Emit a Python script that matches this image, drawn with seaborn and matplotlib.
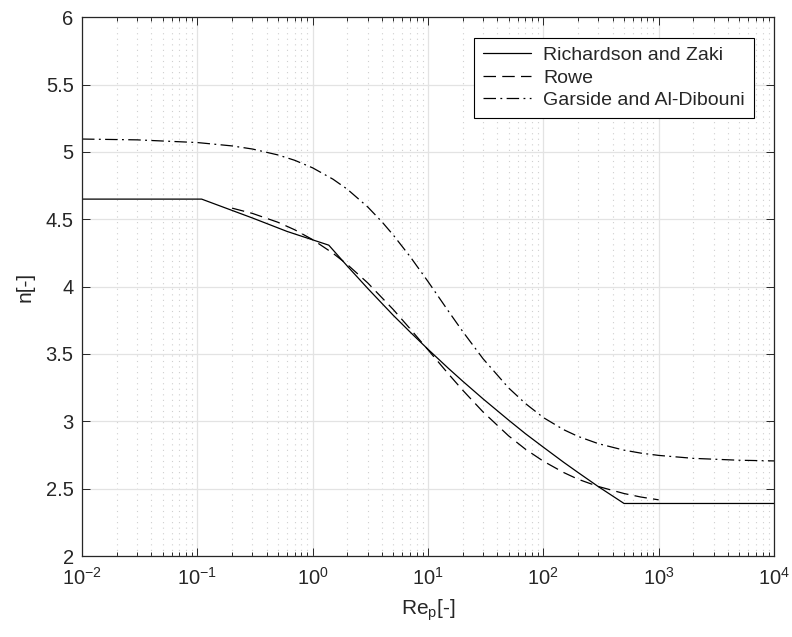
import numpy as np
import pandas as pd
import matplotlib
matplotlib.use("Agg")
import matplotlib.pyplot as plt
import seaborn as sns

# Richardson and Zaki (piecewise)
rz_re = [0.01, 0.109, 0.3, 0.6, 1.38, 2, 3, 5, 7, 10, 15, 20, 30, 50, 70, 100, 150, 200, 300, 501, 10000]
rz_n = [4.65, 4.65, 4.51, 4.41, 4.308, 4.152, 3.987, 3.787, 3.663, 3.535, 3.394, 3.298, 3.167, 3.009,
        2.908, 2.808, 2.696, 2.620, 2.515, 2.39, 2.39]

# Rowe
rowe_re = [0.2, 0.3, 0.5, 0.7, 1, 1.5, 2, 3, 5, 7, 10, 15, 20, 30, 50, 70, 100, 150, 200, 300, 500, 700, 1000]
rowe_n = [4.583, 4.544, 4.478, 4.422, 4.349, 4.248, 4.164, 4.028, 3.830, 3.687, 3.531, 3.353, 3.231,
          3.070, 2.892, 2.793, 2.704, 2.620, 2.570, 2.516, 2.464, 2.438, 2.417]

# Garside and Al-Dibouni
ga_re = [0.01, 0.03, 0.1, 0.2, 0.3, 0.5, 0.7, 1, 1.5, 2, 3, 4, 5, 7, 10, 15, 20, 30, 50, 70, 100,
         150, 200, 300, 500, 700, 1000, 2000, 5000, 10000]
ga_n = [5.096, 5.090, 5.070, 5.045, 5.022, 4.978, 4.938, 4.882, 4.798, 4.723, 4.592, 4.480, 4.383,
        4.223, 4.038, 3.819, 3.667, 3.465, 3.248, 3.132, 3.028, 2.938, 2.888, 2.834, 2.786, 2.764,
        2.747, 2.725, 2.711, 2.706]

labels = ["Richardson and Zaki", "Rowe", "Garside and Al-Dibouni"]

sns.set_style("white")
plt.rcParams['font.family'] = ['Liberation Sans', 'DejaVu Sans']
plt.rcParams['mathtext.fontset'] = 'custom'
plt.rcParams['mathtext.rm'] = 'Liberation Sans'
plt.rcParams['mathtext.it'] = 'Liberation Sans:italic'

fig = plt.figure(figsize=(7.92, 6.37), dpi=100)
ax = fig.add_axes([82/792, 1 - 556/637, (774-82)/792, (556-17.3)/637])

axc = '#262626'
sns.lineplot(x=rz_re, y=rz_n, ax=ax, color='black', linewidth=0.9, label=labels[0], sort=False)
sns.lineplot(x=rowe_re, y=rowe_n, ax=ax, color='black', linewidth=0.9, label=labels[1], sort=False)
sns.lineplot(x=ga_re, y=ga_n, ax=ax, color='black', linewidth=0.9, label=labels[2], sort=False)
lines = ax.get_lines()
lines[1].set_dashes([10, 5])
lines[2].set_dashes([10, 3.5, 1.5, 3.5])

ax.set_xscale('log')
ax.set_xlim(1e-2, 1e4)
ax.set_ylim(2, 6)
ax.set_xticks([1e-2, 1e-1, 1e0, 1e1, 1e2, 1e3, 1e4])
ax.set_yticks([2, 2.5, 3, 3.5, 4, 4.5, 5, 5.5, 6])
ax.set_yticklabels(['2', '2.5', '3', '3.5', '4', '4.5', '5', '5.5', '6'])
ax.xaxis.set_minor_locator(matplotlib.ticker.LogLocator(base=10, subs=np.arange(2, 10), numticks=20))

ax.grid(True, which='major', color='#e3e3e3', linewidth=0.9, linestyle='-')
ax.grid(True, which='minor', axis='x', color='#cfcfcf', linewidth=0.8, linestyle=(0, (1, 4)))
ax.set_axisbelow(True)

for s in ax.spines.values():
    s.set_visible(True)
    s.set_color(axc)
    s.set_linewidth(0.9)

ax.tick_params(which='both', direction='in', top=True, right=True, bottom=True, left=True,
               colors=axc, labelsize=14.5, width=0.7)
ax.tick_params(which='major', length=6)
ax.tick_params(which='minor', length=3)
ax.tick_params(axis='x', pad=8)
ax.tick_params(axis='y', pad=6)

ax.set_xlabel('Re$_\\mathrm{p}$[-]', fontsize=15, color=axc, labelpad=6)
ax.set_ylabel('n[-]', fontsize=15, color=axc, labelpad=8)

leg = ax.legend(loc='upper right', fontsize=14, frameon=True, fancybox=False, edgecolor='black',
                handlelength=2.5, borderaxespad=1.05, borderpad=0.45, labelspacing=0.25,
                handletextpad=0.6)
leg.get_frame().set_linewidth(0.8)
leg.get_frame().set_alpha(1)

fig.savefig('out.png', dpi=100)
